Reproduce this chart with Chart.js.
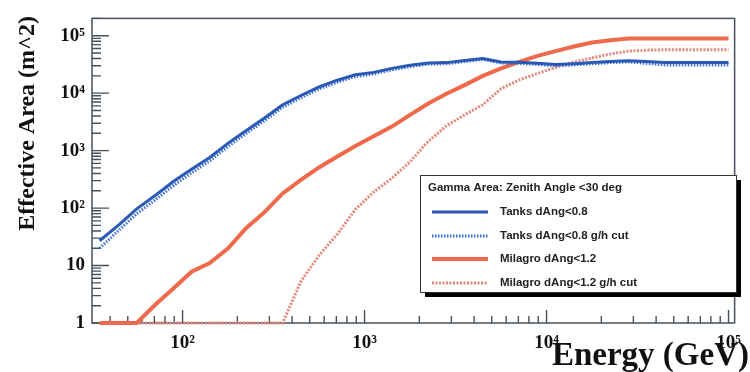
<!DOCTYPE html>
<html>
<head>
<meta charset="utf-8">
<script src="https://cdn.jsdelivr.net/npm/chart.js@4.4.0/dist/chart.umd.min.js"></script>
<style>
  html, body { margin: 0; padding: 0; background: #fff; }
  #wrap { width: 750px; height: 372px; }
</style>
</head>
<body>
<div id="wrap"><canvas id="areaChart" width="750" height="372"></canvas></div>
<script>
// energy bins (GeV)
const energies = [35, 45, 56, 71, 89, 112, 141, 178, 224, 282, 355, 447, 562, 708, 891,
  1122, 1413, 1778, 2239, 2818, 3548, 4467, 5623, 7079, 8913, 11220, 14125, 17783,
  22387, 28184, 35481, 44668, 56234, 70795, 89125, 100000];

// effective area (m^2)
const tanks = [27, 52, 97, 167, 290, 475, 760, 1350, 2240, 3700, 6300, 9100, 12800,
  16800, 21000, 23000, 27000, 30500, 33500, 34000, 37000, 40000, 35000, 34500, 33000,
  31500, 32500, 34000, 35500, 36500, 35500, 34000, 34000, 34000, 34000, 34000];
const tanksCut = [20, 42, 80, 140, 245, 410, 660, 1180, 2000, 3300, 5700, 8300, 11800,
  15500, 19500, 21500, 25500, 29000, 32000, 32500, 35500, 38500, 33500, 33000, 31500,
  30000, 31000, 32500, 34000, 35000, 33000, 31000, 31000, 31000, 31000, 31000];
const milagro = [1, 1, 1, 2.1, 4, 7.8, 11, 20, 45, 85, 180, 310, 510, 790, 1200,
  1780, 2620, 4200, 6600, 9800, 13800, 20000, 27000, 35000, 44500, 54000, 65000, 76000,
  83000, 89000, 89000, 89000, 89000, 89000, 89000, 89000];
const milagroCut = [1, 1, 1, 1, 1, 1, 1, 1, 1, 1, 1, 5.3, 15, 35, 95, 190, 330, 640, 1450,
  2700, 4200, 6300, 12000, 17000, 22000, 28000, 35000, 41000, 48000, 54000, 56000,
  57000, 57000, 57000, 57000, 57000];

const seriesNames = ['Tanks dAng<0.8', 'Tanks dAng<0.8 g/h cut', 'Milagro dAng<1.2', 'Milagro dAng<1.2 g/h cut'];
const legendTitle = 'Gamma Area: Zenith Angle <30 deg';

const xTickValues = [100, 1000, 10000, 100000];
const xTickLabels = ['10²', '10³', '10⁴', '10⁵'];
const yTickValues = [1, 10, 100, 1000, 10000, 100000];
const yTickLabels = ['1', '10', '10²', '10³', '10⁴', '10⁵'];

function toPoints(values) {
  return energies.map((e, i) => ({ x: e, y: values[i] }));
}

const serif = "'Liberation Serif', 'Times New Roman', serif";
const sans = "'Liberation Sans', Arial, sans-serif";

// ROOT-like frame, inward ticks, titles and legend box
const rootStyle = {
  id: 'rootStyle',
  beforeDatasetsDraw(chart) {
    const { ctx, chartArea: a, scales: { x, y } } = chart;
    ctx.save();
    ctx.strokeStyle = '#46505b';
    ctx.lineWidth = 1.5;
    ctx.strokeRect(a.left, a.top, a.right - a.left, a.bottom - a.top);

    ctx.lineWidth = 1.4;
    ctx.beginPath();
    for (let e = 0; e <= 5; e++) {
      for (let k = 1; k <= 9; k++) {
        const v = k * Math.pow(10, e);
        if (v < y.min || v > y.max) continue;
        const py = y.getPixelForValue(v);
        ctx.moveTo(a.left, py);
        ctx.lineTo(a.left + (k === 1 ? 17 : 9), py);
      }
    }
    for (let e = 1; e <= 5; e++) {
      for (let k = 1; k <= 9; k++) {
        const v = k * Math.pow(10, e);
        if (v < x.min || v > x.max) continue;
        const px = x.getPixelForValue(v);
        ctx.moveTo(px, a.bottom);
        ctx.lineTo(px, a.bottom - (k === 1 ? 13 : 7));
      }
    }
    ctx.stroke();
    ctx.restore();
  },
  afterDraw(chart) {
    const ctx = chart.ctx;
    ctx.save();
    ctx.fillStyle = '#111';

    // axis titles
    ctx.font = 'bold 33px ' + serif;
    ctx.textAlign = 'right';
    ctx.textBaseline = 'alphabetic';
    ctx.fillText('Energy (GeV)', 749, 365);

    ctx.save();
    ctx.translate(28, 16);
    ctx.rotate(-Math.PI / 2);
    ctx.font = 'bold 24px ' + serif;
    ctx.textBaseline = 'middle';
    ctx.fillText('Effective Area (m^2)', 0, 0);
    ctx.restore();

    // legend
    const box = { left: 420, top: 175, right: 736, bottom: 292 };
    ctx.fillStyle = '#000';
    ctx.fillRect(box.left + 5, box.top + 5, box.right - box.left, box.bottom - box.top);
    ctx.fillStyle = '#fff';
    ctx.fillRect(box.left, box.top, box.right - box.left, box.bottom - box.top);
    ctx.strokeStyle = '#333';
    ctx.lineWidth = 1;
    ctx.strokeRect(box.left + 0.5, box.top + 0.5, box.right - box.left, box.bottom - box.top);

    ctx.fillStyle = '#222';
    ctx.font = 'bold 11.5px ' + sans;
    ctx.textAlign = 'left';
    ctx.textBaseline = 'middle';
    ctx.fillText(legendTitle, 428, 188);

    const rows = [212, 236, 259, 283];
    chart.data.datasets.forEach((ds, i) => {
      ctx.save();
      ctx.strokeStyle = ds.borderColor;
      ctx.lineWidth = ds.borderWidth;
      ctx.setLineDash(ds.borderDash || []);
      ctx.beginPath();
      ctx.moveTo(432, rows[i]);
      ctx.lineTo(488, rows[i]);
      ctx.stroke();
      ctx.restore();
      ctx.fillText(ds.label, 500, rows[i]);
    });
    ctx.restore();
  }
};

new Chart(document.getElementById('areaChart'), {
  type: 'line',
  data: {
    datasets: [
      { label: seriesNames[0], data: toPoints(tanks), borderColor: '#2a5ab6', borderWidth: 3 },
      { label: seriesNames[1], data: toPoints(tanksCut), borderColor: '#3b70d8', borderWidth: 3, borderDash: [1.5, 1.5] },
      { label: seriesNames[2], data: toPoints(milagro), borderColor: '#ee6a4b', borderWidth: 4 },
      { label: seriesNames[3], data: toPoints(milagroCut), borderColor: '#e6877d', borderWidth: 3, borderDash: [2, 1.5] }
    ].map(d => Object.assign(d, { pointRadius: 0, tension: 0, fill: false, clip: false }))
  },
  options: {
    responsive: false,
    animation: false,
    devicePixelRatio: 1,
    layout: { padding: { top: 8, right: 12, left: 0, bottom: 0 } },
    plugins: { legend: { display: false }, tooltip: { enabled: false } },
    scales: {
      x: {
        type: 'logarithmic',
        min: 31.8,
        max: 108000,
        grid: { display: false, drawTicks: false },
        border: { display: false },
        afterBuildTicks: (scale) => { scale.ticks = xTickValues.map(v => ({ value: v })); },
        afterFit: (scale) => { scale.height = 49; },
        ticks: {
          autoSkip: false,
          maxRotation: 0,
          padding: 9,
          color: '#111',
          font: { family: serif, weight: 'bold', size: 19 },
          callback: (v) => xTickLabels[xTickValues.indexOf(v)]
        }
      },
      y: {
        type: 'logarithmic',
        min: 1,
        max: 200000,
        grid: { display: false, drawTicks: false },
        border: { display: false },
        afterBuildTicks: (scale) => { scale.ticks = yTickValues.map(v => ({ value: v })); },
        afterFit: (scale) => { scale.width = 92; },
        ticks: {
          autoSkip: false,
          padding: 7,
          color: '#111',
          font: { family: serif, weight: 'bold', size: 19 },
          callback: (v) => yTickLabels[yTickValues.indexOf(v)]
        }
      }
    }
  },
  plugins: [rootStyle]
});
</script>
</body>
</html>
